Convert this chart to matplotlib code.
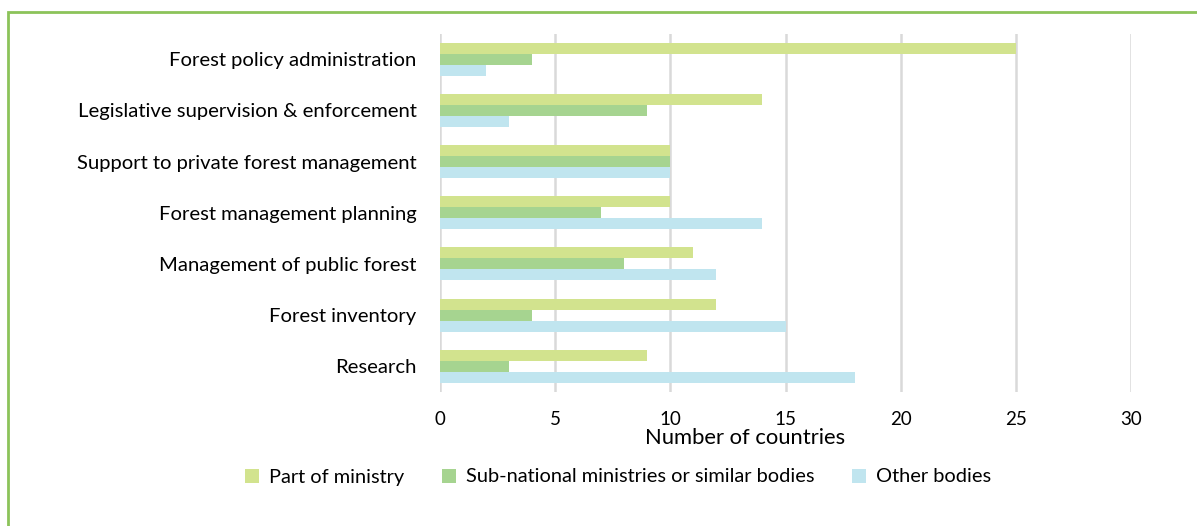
import matplotlib
matplotlib.use("Agg")
import matplotlib.pyplot as plt
import numpy as np
from matplotlib.patches import Rectangle

categories = [
    "Forest policy administration",
    "Legislative supervision & enforcement",
    "Support to private forest management",
    "Forest management planning",
    "Management of public forest",
    "Forest inventory",
    "Research",
]
part_of_ministry = [25, 14, 10, 10, 11, 12, 9]
sub_national = [4, 9, 10, 7, 8, 4, 3]
other_bodies = [2, 3, 10, 14, 12, 15, 18]
series_names = ["Part of ministry", "Sub-national ministries or similar bodies", "Other bodies"]
colors = ["#d2e38e", "#a6d490", "#c0e5ef"]

plt.rcParams["font.family"] = ["Lato", "DejaVu Sans"]

fig = plt.figure(figsize=(11.97, 5.26), dpi=100)
ax = fig.add_axes([440 / 1197, 1 - 392 / 526, (1131 - 440) / 1197, (392 - 33.5) / 526])

y = np.arange(len(categories))
h = 0.215
for i, (vals, name, col) in enumerate(zip([part_of_ministry, sub_national, other_bodies], series_names, colors)):
    ax.barh(y + (i - 1) * h, vals, height=h, color=col, label=name, zorder=3)

ax.set_ylim(len(categories) - 0.5, -0.5)
ax.set_xlim(0, 30)
ax.set_xticks(range(0, 31, 5))
ax.set_yticks(y)
ax.set_yticklabels(categories, fontsize=14.6)
ax.tick_params(axis="y", length=0, pad=17)
ax.tick_params(axis="x", length=0, pad=14, labelsize=13.5)
ax.grid(axis="x", color="#d9d9d9", linewidth=1.8, zorder=0)
for s in ax.spines.values():
    s.set_visible(False)

fig.text(745 / 1197, 1 - 438 / 526, "Number of countries", ha="center", va="center", fontsize=15.8)

fig.legend(loc="center", bbox_to_anchor=(618 / 1197, 1 - 477 / 526), ncol=3, frameon=False,
           fontsize=14.4, handlelength=0.7, handleheight=0.7, handletextpad=0.5, columnspacing=1.9)

# green frame on top and left
fig.patches.append(Rectangle((8 / 1197, -0.1), 1.2, 1 - 11.5 / 526 + 0.1, transform=fig.transFigure,
                             fill=False, edgecolor="#8cc35a", linewidth=2))

fig.savefig("out.png", dpi=100)
